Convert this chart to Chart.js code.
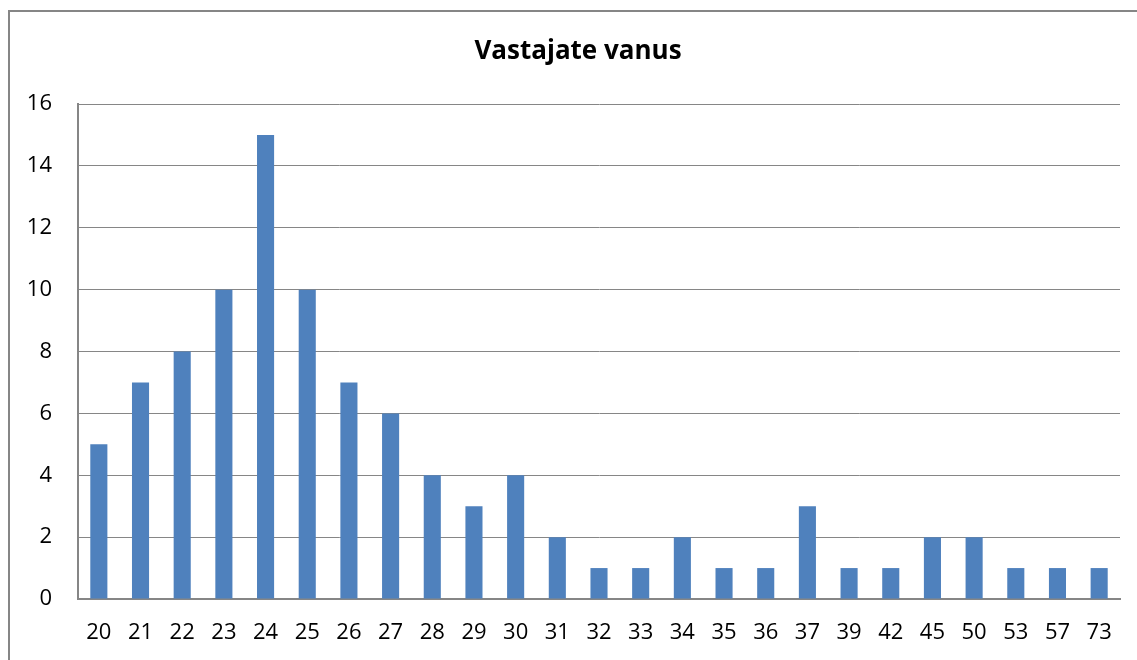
<!DOCTYPE html>
<html>
<head>
<meta charset="utf-8">
<script src="https://cdn.jsdelivr.net/npm/chart.js@4"></script>
<style>
  html, body { margin: 0; padding: 0; background: #fff; }
  #wrap { width: 1137px; height: 660px; }
</style>
</head>
<body>
<div id="wrap"><canvas id="ages" width="1137" height="660"></canvas></div>
<script>
// ages of respondents
const AGES = ["20","21","22","23","24","25","26","27","28","29","30","31","32","33","34","35","36","37","39","42","45","50","53","57","73"];
const COUNTS = [5,7,8,10,15,10,7,6,4,3,4,2,1,1,2,1,1,3,1,1,2,2,1,1,1];
const Y_MAX = 16;
const Y_STEP = 2;
const TITLE = "Vastajate vanus";

const GRID = "#868686";
const BAR = "#4F81BD";
const FONT = "'Open Sans', sans-serif";

// frame around the whole chart + the title (title sits off-centre in the original)
const framePlugin = {
    id: "frame",
    beforeDraw(chart) {
        const ctx = chart.ctx;
        ctx.save();
        ctx.strokeStyle = GRID;
        ctx.lineWidth = 2;
        ctx.beginPath();
        ctx.moveTo(9, chart.height + 5);
        ctx.lineTo(9, 11);
        ctx.lineTo(chart.width + 5, 11);
        ctx.stroke();
        ctx.fillStyle = "#000";
        ctx.font = "bold 26px " + FONT;
        ctx.textAlign = "center";
        ctx.textBaseline = "middle";
        ctx.fillText(TITLE, 578, 52);
        ctx.restore();
    }
};

new Chart(document.getElementById("ages"), {
    type: "bar",
    data: {
        labels: AGES,
        datasets: [{
            data: COUNTS,
            backgroundColor: BAR,
            categoryPercentage: 1,
            barPercentage: 0.41
        }]
    },
    options: {
        responsive: false,
        animation: false,
        layout: { padding: { left: 0, right: 17, top: 104, bottom: 0 } },
        plugins: {
            legend: { display: false },
            tooltip: { enabled: false },
            title: { display: false }
        },
        scales: {
            x: {
                grid: { display: false, drawTicks: false },
                border: { display: true, color: GRID, width: 2 },
                ticks: { color: "#000", font: { family: FONT, size: 22 }, padding: 21, maxRotation: 0, autoSkip: false },
                afterFit(scale) { scale.height = 61; }
            },
            y: {
                min: 0,
                max: Y_MAX,
                ticks: { stepSize: Y_STEP, color: "#000", font: { family: FONT, size: 22 }, padding: 26 },
                grid: { color: GRID, lineWidth: 1, drawTicks: false },
                border: { display: true, color: GRID, width: 2 },
                afterFit(scale) { scale.width = 78; }
            }
        }
    },
    plugins: [framePlugin]
});
</script>
</body>
</html>
